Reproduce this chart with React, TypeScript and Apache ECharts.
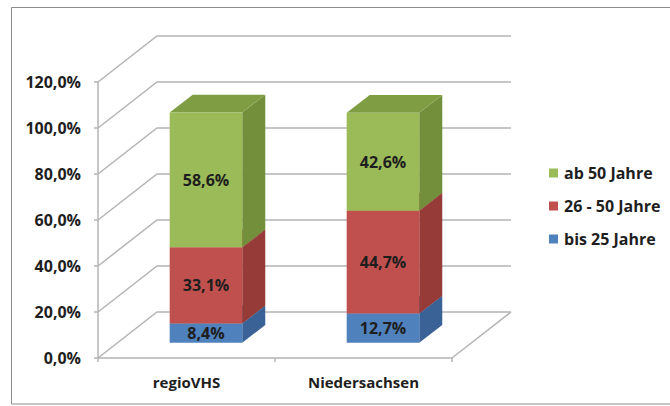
import React, { useEffect, useRef } from "react";
import * as echarts from "echarts";

const CATEGORIES = ["regioVHS", "Niedersachsen"];
const SERIES_NAMES = ["bis 25 Jahre", "26 - 50 Jahre", "ab 50 Jahre"];
const BIS_25 = [8.4, 12.7];
const AGE_26_50 = [33.1, 44.7];
const AB_50 = [58.6, 42.6];
const Y_TICKS = [0, 20, 40, 60, 80, 100, 120];

const VALUES = [BIS_25, AGE_26_50, AB_50];
const FACE_COLORS = [
  { front: "#4F81BD", side: "#3B6296", top: "#44709F" },
  { front: "#C0504D", side: "#973B39", top: "#A8413F" },
  { front: "#9BBB59", side: "#738F3B", top: "#7F9E44" },
];

// depth offsets (floor depth) and bar depth fractions
const DX = 59;
const DY = -46;
const F0 = 0.33;
const F1 = 0.72;
const BAR_RATIO = 0.41;
const FONT = "'Open Sans', 'Liberation Sans', sans-serif";
const TEXT = "#1E1E1E";
const GRID_COLOR = "#B4B4B4";

const fmt = (v: number) => v.toFixed(1).replace(".", ",") + "%";

export default function App() {
  const ref = useRef<HTMLDivElement>(null);
  useEffect(() => {
    if (!ref.current) return;
    const chart = echarts.init(ref.current, null, { renderer: "svg" });

    const wallSeries: any = {
      type: "custom",
      silent: true,
      z: 1,
      data: [[0, 0]],
      renderItem: (params: any, api: any) => {
        const cs = params.coordSys;
        const xl = cs.x;
        const xr = cs.x + cs.width;
        const children: any[] = [];
        Y_TICKS.forEach((v) => {
          const y = api.coord([0, v])[1];
          children.push({
            type: "polyline",
            shape: {
              points: [
                [xl, y],
                [xl + DX, y + DY],
                [xr + DX, y + DY],
              ],
            },
            style: { stroke: GRID_COLOR, lineWidth: 1.5, fill: null },
          });
        });
        const y0 = api.coord([0, 0])[1];
        children.push({
          type: "line",
          shape: { x1: xr, y1: y0, x2: xr + DX, y2: y0 + DY },
          style: { stroke: GRID_COLOR, lineWidth: 1.5 },
        });
        return { type: "group", children };
      },
    };

    const barSeries = SERIES_NAMES.map((name, si) => {
      const data = CATEGORIES.map((_, ci) => {
        let start = 0;
        for (let k = 0; k < si; k++) start += VALUES[k][ci];
        const end = start + VALUES[si][ci];
        return [ci, start, end, VALUES[si][ci]];
      });
      const c = FACE_COLORS[si];
      return {
        type: "custom",
        name,
        z: 2 + si,
        itemStyle: { color: c.front },
        data,
        renderItem: (params: any, api: any) => {
          const ci = api.value(0);
          const s = api.value(1);
          const e = api.value(2);
          const v = api.value(3);
          const ps = api.coord([ci, s]);
          const pe = api.coord([ci, e]);
          const bw = api.size([1, 0])[0] * BAR_RATIO;
          const ox0 = F0 * DX, oy0 = F0 * DY, ox1 = F1 * DX, oy1 = F1 * DY;
          const xl = ps[0] - bw / 2;
          const xr = ps[0] + bw / 2;
          const yS = ps[1];
          const yE = pe[1];
          return {
            type: "group",
            children: [
              {
                type: "polygon",
                shape: {
                  points: [
                    [xr + ox0, yS + oy0],
                    [xr + ox1, yS + oy1],
                    [xr + ox1, yE + oy1],
                    [xr + ox0, yE + oy0],
                  ],
                },
                style: { fill: c.side },
              },
              {
                type: "polygon",
                shape: {
                  points: [
                    [xl + ox0, yE + oy0],
                    [xr + ox0, yE + oy0],
                    [xr + ox1, yE + oy1],
                    [xl + ox1, yE + oy1],
                  ],
                },
                style: { fill: c.top },
              },
              {
                type: "rect",
                shape: { x: xl + ox0, y: yE + oy0, width: bw, height: yS - yE },
                style: { fill: c.front },
              },
              {
                type: "text",
                x: ps[0] + ox0,
                y: (yS + yE) / 2 + oy0,
                style: {
                  text: fmt(v),
                  fill: TEXT,
                  font: `bold 16px ${FONT}`,
                  align: "center",
                  verticalAlign: "middle",
                },
              },
            ],
          };
        },
      };
    });

    chart.setOption({
      animation: false,
      backgroundColor: "#FFFFFF",
      textStyle: { fontFamily: FONT },
      grid: { left: 98, right: 218, top: 82, bottom: 48, containLabel: false },
      legend: {
        orient: "vertical",
        left: 544,
        top: 160,
        itemWidth: 9,
        itemHeight: 9,
        itemGap: 17,
        icon: "rect",
        data: ["ab 50 Jahre", "26 - 50 Jahre", "bis 25 Jahre"],
        textStyle: { fontFamily: FONT, fontSize: 16, fontWeight: "bold", color: TEXT, padding: [0, 0, 0, 1] },
        selectedMode: false,
      },
      xAxis: {
        type: "category",
        data: CATEGORIES,
        boundaryGap: true,
        axisLine: { show: true, lineStyle: { color: GRID_COLOR, width: 1.5 } },
        axisTick: { show: true, length: 4, lineStyle: { color: GRID_COLOR, width: 1.5 } },
        axisLabel: { fontFamily: FONT, fontSize: 15, fontWeight: "bold", color: TEXT, margin: 16 },
        splitLine: { show: false },
      },
      yAxis: {
        type: "value",
        min: 0,
        max: 120,
        interval: 20,
        axisLine: { show: true, lineStyle: { color: GRID_COLOR, width: 1.5 } },
        axisTick: { show: true, length: 4, lineStyle: { color: GRID_COLOR, width: 1.5 } },
        axisLabel: {
          fontFamily: FONT,
          fontSize: 16,
          fontWeight: "bold",
          color: TEXT,
          margin: 17,
          formatter: (v: number) => fmt(v),
        },
        splitLine: { show: false },
      },
      graphic: [
        {
          type: "rect",
          shape: { x: 11.5, y: 7.5, width: 700, height: 396.5 },
          style: { fill: null, stroke: "#8C8C8C", lineWidth: 1 },
          silent: true,
          z: -1,
        },
      ],
      series: [wallSeries, ...barSeries],
    });

    return () => chart.dispose();
  }, []);

  return (
    <div
      ref={ref}
      style={{ position: "fixed", left: 0, top: 0, width: 670, height: 406, background: "#fff" }}
    />
  );
}
